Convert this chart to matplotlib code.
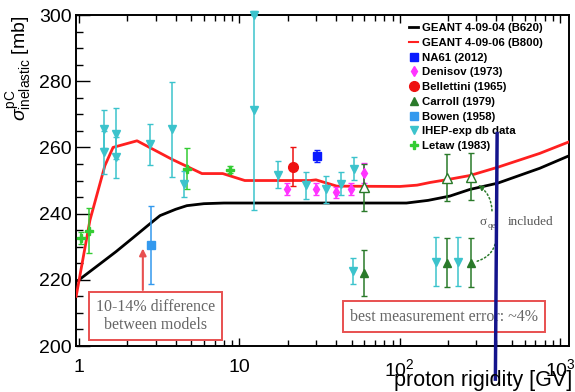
import numpy as np
import matplotlib
matplotlib.use("Agg")
import matplotlib.pyplot as plt
from matplotlib.lines import Line2D
from matplotlib.ticker import FixedLocator, FixedFormatter, MultipleLocator, LogLocator, NullFormatter

plt.rcParams['font.family'] = ['Liberation Sans', 'DejaVu Sans']
plt.rcParams['mathtext.fontset'] = 'custom'
plt.rcParams['mathtext.rm'] = 'Liberation Sans'
plt.rcParams['mathtext.it'] = 'Liberation Sans:italic'

# model curves (rigidity GV, sigma mb)
g4_0904_x = [0.96, 1.0, 1.35, 1.7, 2.17, 2.7, 3.2, 4.0, 4.7, 6.0, 8.0, 110, 150, 205, 273, 407, 745, 1150]
g4_0904_y = [219.5, 220, 224.8, 228.5, 232.7, 236.5, 239.4, 241.3, 242.4, 243.0, 243.2, 243.2, 244.0, 245.3, 247.3, 249.2, 253.7, 257.6]
g4_0906_x = [0.96, 1.17, 1.45, 1.63, 2.3, 3.8, 5.84, 7.87, 10.8, 27.5, 30, 40.5, 100, 128, 154, 199, 273, 407, 745, 1150]
g4_0906_y = [215, 238, 254.5, 260, 262, 256.4, 252.1, 252.1, 250, 250, 250.2, 248.3, 248.2, 248.6, 249.4, 250.3, 251.5, 254, 258.2, 261.8]

# measurements
ihep_x = [1.43, 1.43, 1.70, 1.70, 2.77, 3.8, 4.51, 12.3, 12.3, 17.4, 26, 34.5, 42.9, 51.7, 51.1, 168, 230]
ihep_y = [265.5, 258.5, 264.2, 257.0, 260.9, 265.5, 249.0, 271.2, 300.0, 251.8, 248.5, 247.3, 249.0, 253.6, 222.7, 225.5, 225.5]
ihep_e = [5.7, 6.4, 7.6, 6.1, 6.1, 14.3, 4.0, 30.0, 0.0, 4.2, 4.0, 4.2, 3.5, 3.5, 4.0, 7.5, 7.5]

denisov_x = [19.8, 30, 39.8, 49.6, 59.6]
denisov_y = [247.3, 247.3, 246.4, 247.3, 252.4]
denisov_e = [1.8, 1.8, 1.6, 1.8, 3.0]

bellettini_x = [21.5]
bellettini_y = [254.2]
bellettini_e = [6.0]

na61_x = [30.4]
na61_y = [257.3]
na61_e = [1.8]

bowen_x = [2.81]
bowen_y = [230.6]
bowen_e = [11.8]

letaw_x = [1.03, 1.15, 4.71, 8.74]
letaw_y = [232.7, 234.8, 253.6, 253.3]
letaw_e = [1.8, 6.8, 6.2, 1.0]

carroll_x = [59.6, 198, 277]
carroll_y = [222.1, 225.2, 225.2]
carroll_e = [7.0, 7.5, 7.5]
carroll_qe_x = [59.6, 197, 276]
carroll_qe_y = [247.9, 250.9, 251.2]
carroll_qe_e = [7.0, 7.0, 7.0]

c_ihep = '#3cc3cc'
c_letaw = '#33cc33'
c_carroll = '#2a7a2a'
c_bowen = '#3399ee'
c_na61 = '#0a1aff'
c_denisov = '#ff33ff'
c_bell = '#ee1111'
c_box = '#e85050'

fig = plt.figure(figsize=(5.75, 3.92), dpi=100)
ax = fig.add_axes([0.1322, 0.1173, 0.857, 0.8444])

ax.plot(g4_0904_x, g4_0904_y, color='black', lw=2, zorder=3)
ax.plot(g4_0906_x, g4_0906_y, color='#ff2020', lw=2, zorder=3)

eb = dict(ls='none', elinewidth=1.1, capsize=2, capthick=1, zorder=4)
ax.errorbar(ihep_x, ihep_y, yerr=ihep_e, fmt='v', color=c_ihep, ms=6, clip_on=False, **eb)
ax.errorbar(letaw_x, letaw_y, yerr=letaw_e, fmt='P', color=c_letaw, ms=6, **eb)
ax.errorbar(bowen_x, bowen_y, yerr=bowen_e, fmt='s', color=c_bowen, ms=6, **eb)
ax.errorbar(denisov_x, denisov_y, yerr=denisov_e, fmt='d', color=c_denisov, ms=5, **eb)
ax.errorbar(bellettini_x, bellettini_y, yerr=bellettini_e, fmt='o', color=c_bell, ms=7, **eb)
ax.errorbar(na61_x, na61_y, yerr=na61_e, fmt='s', color=c_na61, ms=6, **eb)
ax.errorbar(carroll_x, carroll_y, yerr=carroll_e, fmt='^', color=c_carroll, ms=6, **eb)
ax.errorbar(carroll_qe_x, carroll_qe_y, yerr=carroll_qe_e, fmt='^', color=c_carroll, mfc='white', ms=7, **eb)

ax.set_xscale('log')
ax.set_xlim(0.958, 1130)
ax.set_ylim(200, 300)

# ticks
ax.xaxis.set_major_locator(FixedLocator([1, 10, 100, 1000]))
ax.xaxis.set_major_formatter(FixedFormatter(['1', '10', '$10^{2}$', '$10^{3}$']))
ax.xaxis.set_minor_locator(LogLocator(base=10, subs=np.arange(2, 10)))
ax.xaxis.set_minor_formatter(NullFormatter())
ax.yaxis.set_major_locator(MultipleLocator(20))
ax.yaxis.set_minor_locator(MultipleLocator(5))
ax.tick_params(axis='x', which='major', direction='in', top=True, length=6, width=1, pad=9, labelsize=14)
ax.tick_params(axis='x', which='minor', direction='in', top=True, length=4, width=1)
ax.tick_params(axis='y', which='major', direction='in', right=False, length=10, width=1, pad=3, labelsize=14)
ax.tick_params(axis='y', which='minor', direction='in', right=False, length=5, width=1)
for s in ax.spines.values():
    s.set_linewidth(1.4)

ax.set_ylabel(r'$\sigma^{\mathrm{pC}}_{\mathrm{inelastic}}$ [mb]', fontsize=14, loc='top', labelpad=4)
fig.text(0.995, 0.003, 'proton rigidity [GV]', fontsize=15.5, ha='right', va='bottom')

# legend
handles = [
    Line2D([], [], color='black', lw=2),
    Line2D([], [], color='#ff2020', lw=1.5),
    Line2D([], [], ls='none', marker='s', color=c_na61, ms=6),
    Line2D([], [], ls='none', marker='d', color=c_denisov, ms=5),
    Line2D([], [], ls='none', marker='o', color=c_bell, ms=7),
    Line2D([], [], ls='none', marker='^', color=c_carroll, ms=6),
    Line2D([], [], ls='none', marker='s', color=c_bowen, ms=6),
    Line2D([], [], ls='none', marker='v', color=c_ihep, ms=6),
    Line2D([], [], ls='none', marker='P', color=c_letaw, ms=6),
]
labels = ['GEANT 4-09-04 (B620)', 'GEANT 4-09-06 (B800)', 'NA61 (2012)', 'Denisov (1973)',
          'Bellettini (1965)', 'Carroll (1979)', 'Bowen (1958)', 'IHEP-exp db data', 'Letaw (1983)']
ax.legend(handles, labels, loc='upper left', bbox_to_anchor=(0.66, 1.0), frameon=False,
          handlelength=0.8, handletextpad=0.3, labelspacing=0.42, borderpad=0.2,
          prop={'weight': 'bold', 'size': 8.2})

# annotations
ax.annotate('', xy=(2.5, 230.3), xytext=(2.5, 216.1),
            arrowprops=dict(arrowstyle='-|>', color=c_box, lw=1.5, mutation_scale=10), zorder=5)
ax.text(3.0, 209.0, '10-14% difference\nbetween models', ha='center', va='center',
        family='Liberation Serif', fontsize=11.5, color='#666666', linespacing=1.15,
        bbox=dict(boxstyle='square,pad=0.45', fc='white', ec=c_box, lw=1.4), zorder=6)
ax.text(188, 208.9, 'best measurement error: ~4%', ha='center', va='center',
        family='Liberation Serif', fontsize=11.5, color='#666666',
        bbox=dict(boxstyle='square,pad=0.45', fc='white', ec=c_box, lw=1.4), zorder=6)

ax.text(312, 237.6, 'σ', ha='left', va='center',
        family='Liberation Serif', fontsize=9.5, color='#555555', zorder=6)
ax.text(350, 236.4, 'qe', ha='left', va='center',
        family='Liberation Serif', fontsize=6.5, color='#555555', zorder=6)
ax.text(470, 237.6, 'included', ha='left', va='center',
        family='Liberation Serif', fontsize=9.5, color='#555555', zorder=6)
ax.annotate('', xy=(297, 249.1), xytext=(375, 240.0),
            arrowprops=dict(arrowstyle='-|>', color=c_carroll, lw=1.1, ls=':',
                            connectionstyle='arc3,rad=0.3', mutation_scale=8), zorder=5)
ax.annotate('', xy=(292, 225.4), xytext=(400, 234.0),
            arrowprops=dict(arrowstyle='-', color=c_carroll, lw=1.1, ls=':',
                            connectionstyle='arc3,rad=-0.4'), zorder=5)

# hand-drawn marker line
ax.plot([404, 394], [264.2, 190.0], color='#14148c', lw=2.5, clip_on=False, zorder=7)

fig.savefig('out.png', dpi=100)
